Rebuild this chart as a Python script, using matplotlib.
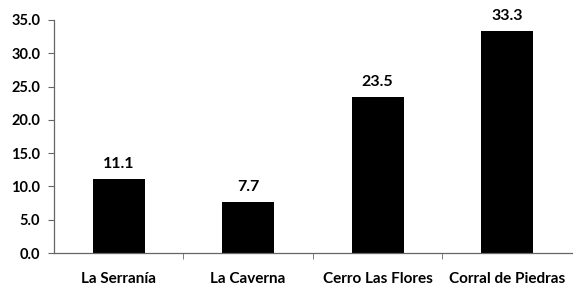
import matplotlib
matplotlib.use("Agg")
import matplotlib.pyplot as plt
import numpy as np

categories = ["La Serranía", "La Caverna", "Cerro Las Flores", "Corral de Piedras"]
values = [11.1, 7.7, 23.5, 33.3]
yticks = [0, 5, 10, 15, 20, 25, 30, 35]

plt.rcParams["font.family"] = ["Lato", "DejaVu Sans"]

fig = plt.figure(figsize=(5.73, 2.88), dpi=100)
ax = fig.add_axes([0.0942, 0.1215, 0.9038, 0.8091])

x = np.arange(len(categories))
ax.bar(x, values, width=0.4, color="black")
for xi, v in zip(x, values):
    ax.text(xi, v + 1.2, f"{v:.1f}", ha="center", va="bottom",
            fontsize=11.5, fontweight="bold")

ax.set_xlim(-0.5, len(categories) - 0.5)
ax.set_ylim(0, 35)
ax.set_yticks(yticks)
ax.set_yticklabels([f"{t:.1f}" for t in yticks])
ax.set_xticks(x)
ax.set_xticklabels(categories)
ax.set_xticks(x[:-1] + 0.5, minor=True)

for s in ["top", "right"]:
    ax.spines[s].set_visible(False)
for s in ["left", "bottom"]:
    ax.spines[s].set_color("#666666")
    ax.spines[s].set_linewidth(0.9)

ax.tick_params(axis="y", direction="out", length=4, color="#666666",
               labelsize=10.5, pad=6)
ax.tick_params(axis="x", which="major", length=0, labelsize=11, pad=14)
ax.tick_params(axis="x", which="minor", direction="out", length=4,
               color="#666666")
for lab in ax.get_xticklabels() + ax.get_yticklabels():
    lab.set_fontweight("bold")

fig.savefig("out.png", dpi=100)
